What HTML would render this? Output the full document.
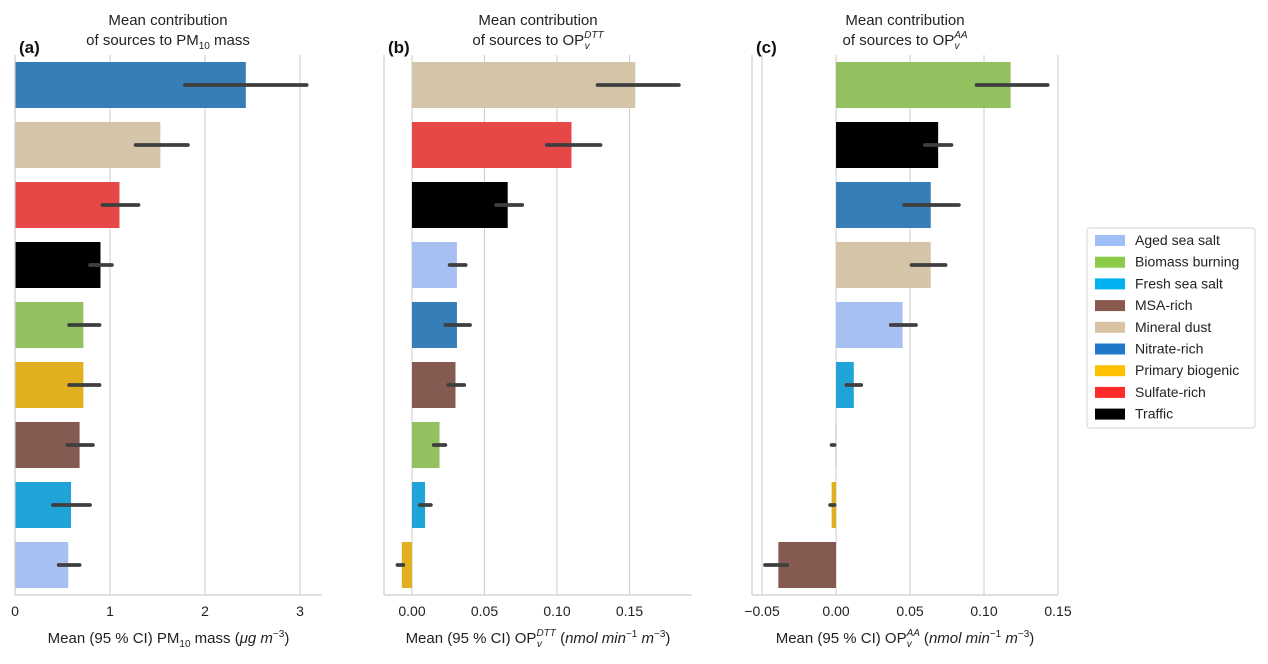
<!DOCTYPE html>
<html><head><meta charset="utf-8"><style>
body{margin:0;background:#fff}
svg{font-family:"Liberation Sans","DejaVu Sans",sans-serif}
</style></head><body>
<svg id="c" width="1268" height="659" viewBox="0 0 1268 659"></svg>
<script>
const sources=["Aged sea salt","Biomass burning","Fresh sea salt","MSA-rich","Mineral dust","Nitrate-rich","Primary biogenic","Sulfate-rich","Traffic"];
const legendColors=["#9fbff7","#8ccb48","#00b0f0","#8b5a4e","#d8c4a2","#1f78c8","#ffc000","#ff2a2a","#000000"];
const barColors=["#a6c0f2","#93c160","#20a4d8","#855a50","#d4c4a8","#377eb8","#e0b020","#e64848","#000000"];
// panel a
const aOrder=["Nitrate-rich","Mineral dust","Sulfate-rich","Traffic","Biomass burning","Primary biogenic","MSA-rich","Fresh sea salt","Aged sea salt"];
const aMean=[2.43,1.53,1.10,0.90,0.72,0.72,0.68,0.59,0.56];
const aLo=[1.79,1.27,0.92,0.79,0.57,0.57,0.55,0.40,0.46];
const aHi=[3.07,1.82,1.30,1.02,0.89,0.89,0.82,0.79,0.68];
const aTicks=[0,1,2,3];
// panel b
const bOrder=["Mineral dust","Sulfate-rich","Traffic","Aged sea salt","Nitrate-rich","MSA-rich","Biomass burning","Fresh sea salt","Primary biogenic"];
const bMean=[0.154,0.110,0.066,0.031,0.031,0.030,0.019,0.009,-0.007];
const bLo=[0.128,0.093,0.058,0.026,0.023,0.025,0.015,0.0055,-0.010];
const bHi=[0.184,0.130,0.076,0.037,0.040,0.036,0.023,0.013,-0.006];
const bTicks=[0,0.05,0.10,0.15];
// panel c
const cOrder=["Biomass burning","Traffic","Nitrate-rich","Mineral dust","Aged sea salt","Fresh sea salt","Sulfate-rich","Primary biogenic","MSA-rich"];
const cMean=[0.118,0.069,0.064,0.064,0.045,0.012,-0.0001,-0.003,-0.039];
const cLo=[0.095,0.060,0.046,0.051,0.037,0.007,-0.003,-0.004,-0.048];
const cHi=[0.143,0.078,0.083,0.074,0.054,0.017,-0.001,-0.001,-0.033];
const cTicks=[-0.05,0,0.05,0.10,0.15];

const svg=document.getElementById('c');
const NS="http://www.w3.org/2000/svg";
function mk(tag,attrs,parent){const e=document.createElementNS(NS,tag);for(const k in attrs)e.setAttribute(k,attrs[k]);(parent||svg).appendChild(e);return e;}
const top0=55,band=60,bh=46,bottom=595;

function panel(id,px0,px1,dmin,dmax,order,mean,lo,hi,ticks,fmt,titleHTML,labelHTML,letter){
  const g=mk('g',{});
  
  
  const x=v=>px0+(v-dmin)/(dmax-dmin)*(px1-px0);
  ticks.forEach(t=>{
    const l=mk('line',{x1:x(t),x2:x(t),y1:top0,y2:bottom,stroke:'#cccccc','stroke-width':1},g);
    
    
    const tx=mk('text',{x:x(t),y:616,'font-size':14,'text-anchor':'middle',fill:'#222'},g);
    tx.textContent=fmt(t);
    
    
  });
  order.forEach((s,i)=>{
    const ci=sources.indexOf(s);
    const cy=top0+band*i+band/2;
    const a=x(Math.min(0,mean[i])),b=x(Math.max(0,mean[i]));
    const r=mk('rect',{x:a,y:cy-bh/2,width:Math.max(0,b-a),height:bh,fill:barColors[ci]},g);
    
    
    const e=mk('line',{x1:x(lo[i]),x2:x(hi[i]),y1:cy,y2:cy,stroke:'#3f3f3f','stroke-width':3.8,'stroke-linecap':'round'},g);
    
    
  });
  const ls=mk('line',{x1:px0,x2:px0,y1:top0,y2:bottom,stroke:'#cccccc','stroke-width':1.2},g);
  
  
  const bs=mk('line',{x1:px0,x2:px1,y1:bottom,y2:bottom,stroke:'#cccccc','stroke-width':1.2},g);
  
  
  const cx=(px0+px1)/2;
  const t=mk('text',{x:cx,y:25,'font-size':15,'text-anchor':'middle',fill:'#222'},g);
  t.innerHTML=titleHTML;
  
  
  const xl=mk('text',{x:cx,y:643,'font-size':15,'text-anchor':'middle',fill:'#222'},g);
  xl.innerHTML=labelHTML;
  
  
  const pl=mk('text',{x:px0+4,y:53,'font-size':17,'font-weight':'bold',fill:'#111'},g);
  pl.textContent=letter;
  
  
}
const f0=t=>String(t);
const f2=t=>t.toFixed(2).replace('-','−');
panel('a',15,322,0,3.232,aOrder,aMean,aLo,aHi,aTicks,f0,
 '<tspan x="168" dy="0">Mean contribution</tspan><tspan x="168" dy="20">of sources to PM</tspan><tspan font-size="10" dy="4">10</tspan><tspan dy="-4"> mass</tspan>',
 'Mean (95 % CI) PM<tspan font-size="10" dy="4">10</tspan><tspan dy="-4"> mass (</tspan><tspan font-style="italic">μg m</tspan><tspan font-size="10" dy="-6">−3</tspan><tspan dy="6">)</tspan>','(a)');
panel('b',384,692,-0.0193,0.1931,bOrder,bMean,bLo,bHi,bTicks,f2,
 '<tspan x="538" dy="0">Mean contribution</tspan><tspan x="538" dy="20">of sources to OP</tspan><tspan font-size="10" dy="-7" font-style="italic">DTT</tspan><tspan font-size="10" dx="-19" dy="11" font-style="italic">v</tspan>',
 'Mean (95 % CI) OP<tspan font-size="10" dy="-7" font-style="italic">DTT</tspan><tspan font-size="10" dx="-19" dy="11" font-style="italic">v</tspan><tspan dx="14" dy="-4"> (</tspan><tspan font-style="italic">nmol  min</tspan><tspan font-size="10" dy="-6">−1</tspan><tspan dy="6" font-style="italic"> m</tspan><tspan font-size="10" dy="-6">−3</tspan><tspan dy="6">)</tspan>','(b)');
panel('c',752,1058,-0.0568,0.15,cOrder,cMean,cLo,cHi,cTicks,f2,
 '<tspan x="905" dy="0">Mean contribution</tspan><tspan x="905" dy="20">of sources to OP</tspan><tspan font-size="10" dy="-7" font-style="italic">AA</tspan><tspan font-size="10" dx="-13" dy="11" font-style="italic">v</tspan>',
 'Mean (95 % CI) OP<tspan font-size="10" dy="-7" font-style="italic">AA</tspan><tspan font-size="10" dx="-13" dy="11" font-style="italic">v</tspan><tspan dx="8" dy="-4"> (</tspan><tspan font-style="italic">nmol  min</tspan><tspan font-size="10" dy="-6">−1</tspan><tspan dy="6" font-style="italic"> m</tspan><tspan font-size="10" dy="-6">−3</tspan><tspan dy="6">)</tspan>','(c)');

// legend
const lg=mk('g',{});


mk('rect',{x:1087,y:228,width:168,height:200,rx:3,fill:'#fff',stroke:'#d0d0d0'},lg);
sources.forEach((s,i)=>{
  const y=240+i*21.7;
  const p=mk('rect',{x:1095,y:y-5,width:30,height:11,fill:legendColors[i]},lg);
  
  
  const t=mk('text',{x:1135,y:y+5,'font-size':14,fill:'#222'},lg);
  t.textContent=s;
  
  
});
</script>
</body></html>
